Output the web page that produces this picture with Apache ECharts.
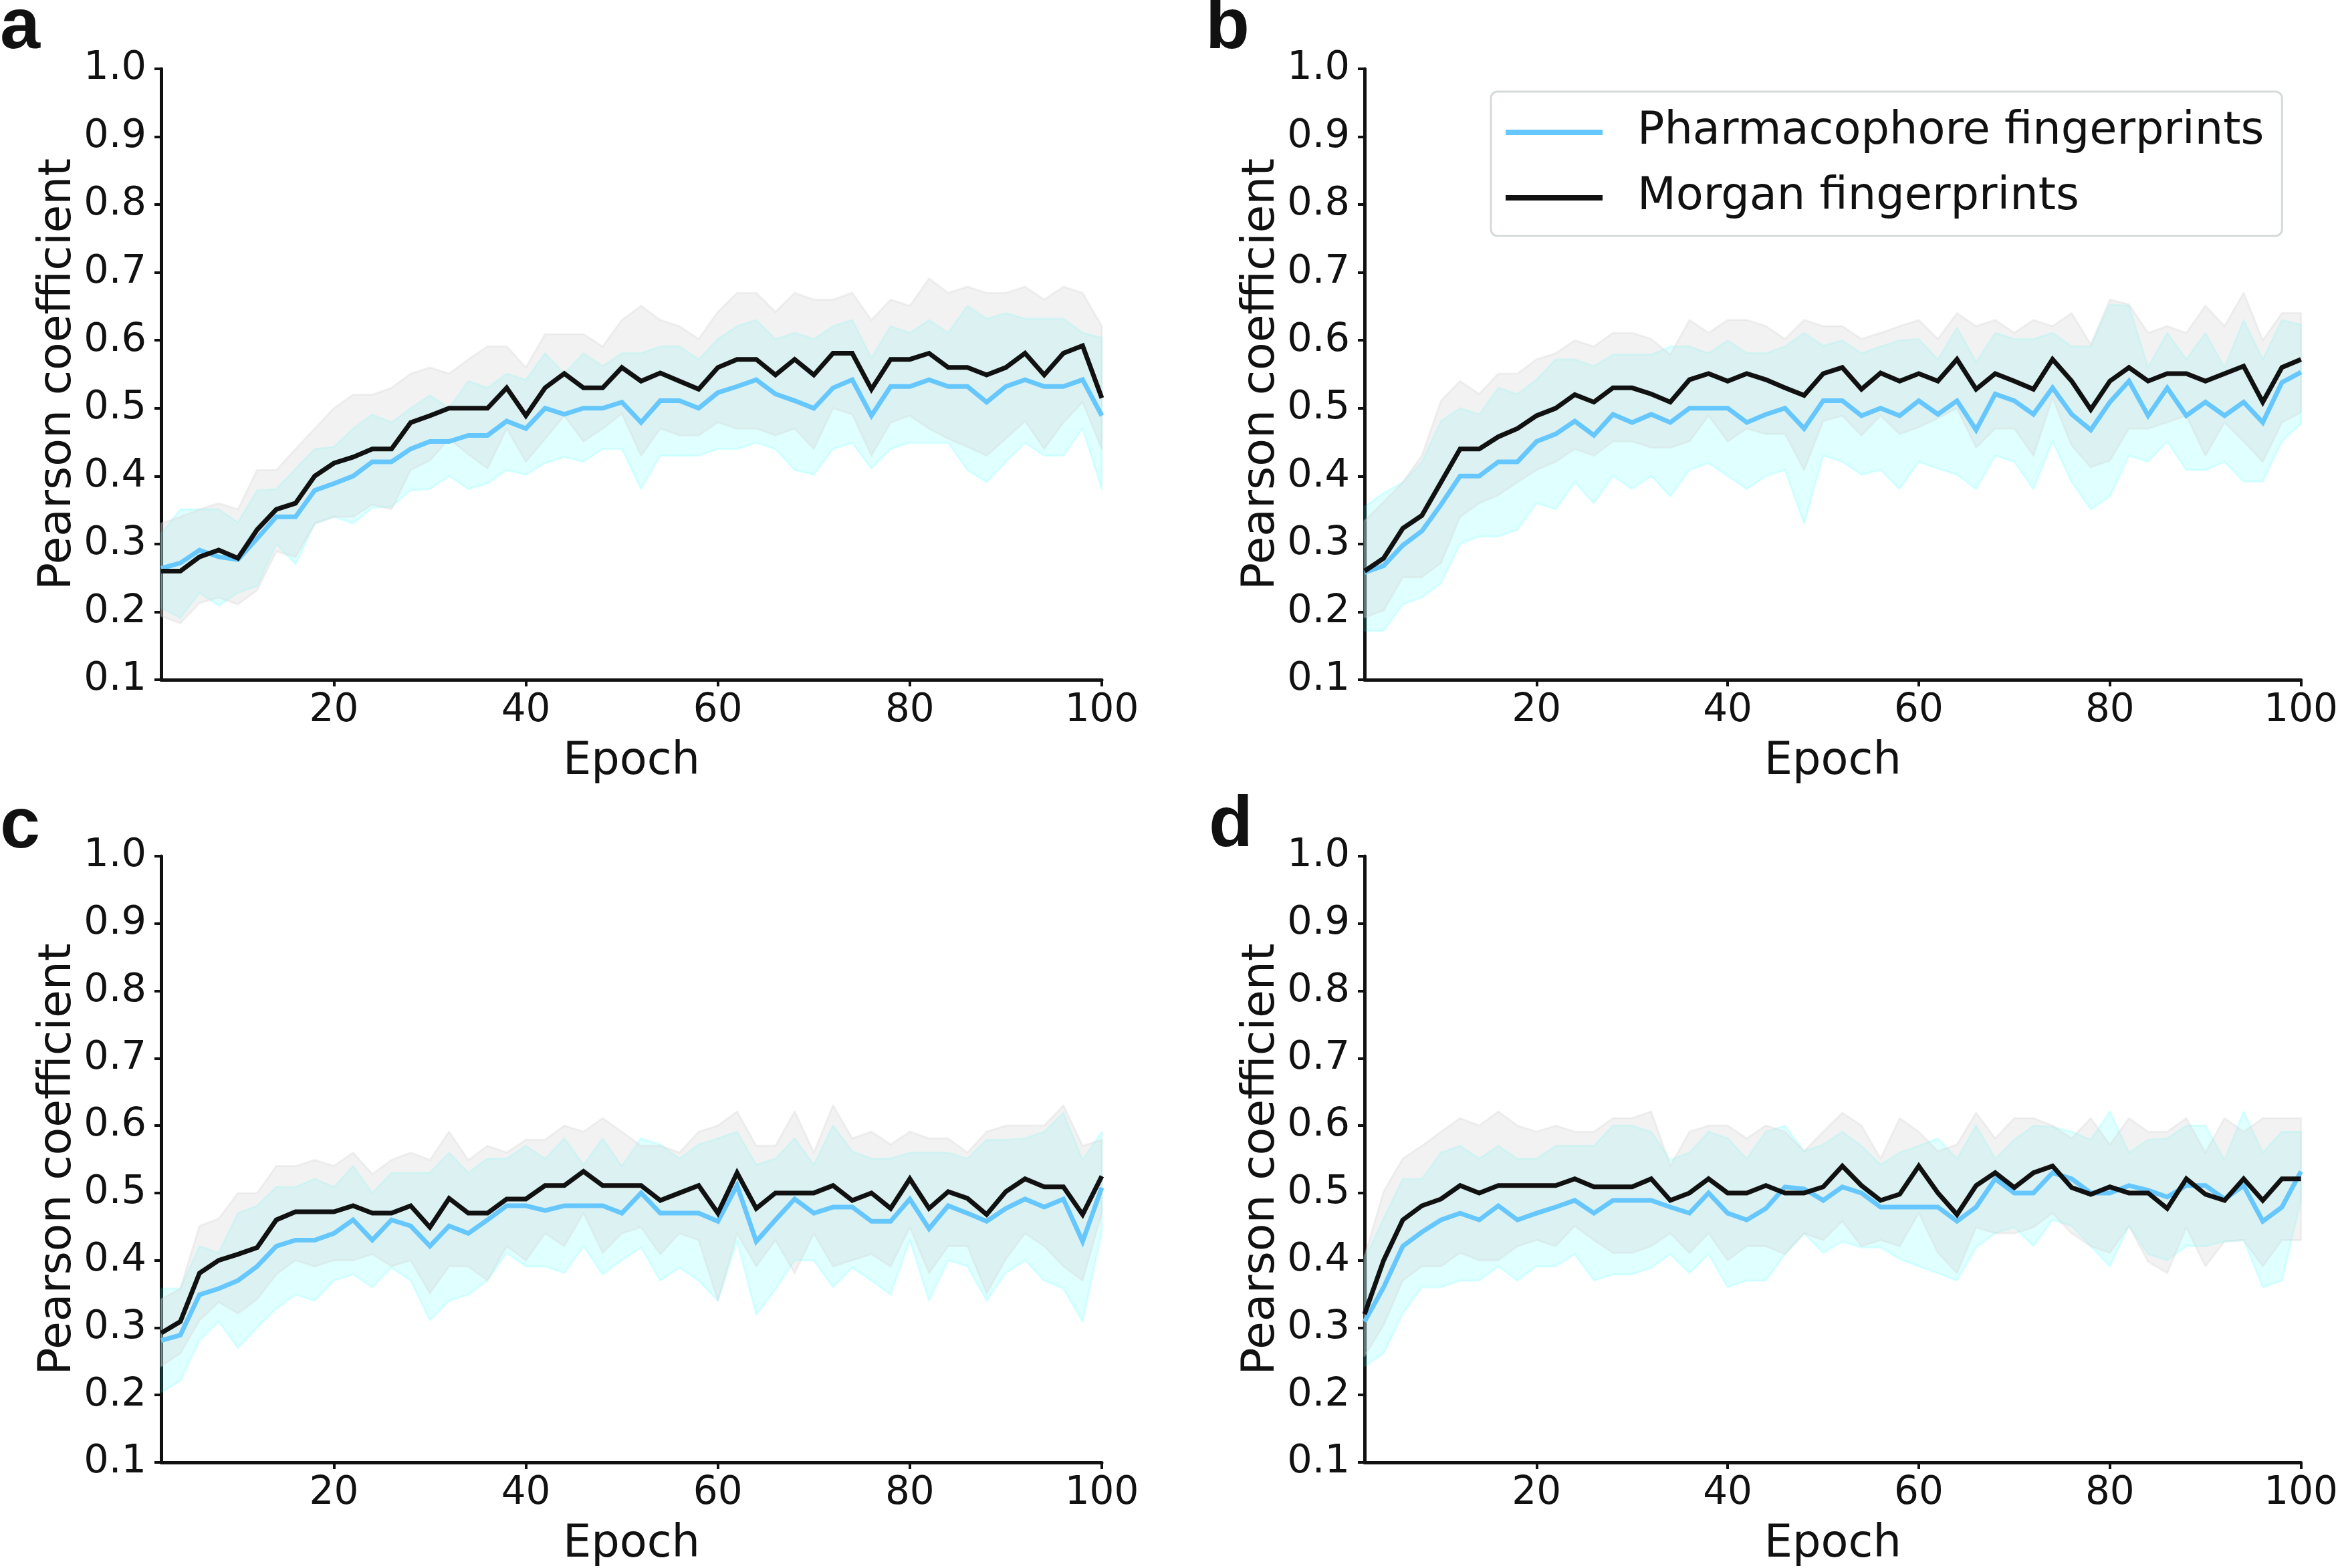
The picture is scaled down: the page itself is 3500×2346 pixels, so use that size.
<!DOCTYPE html>
<html><head><meta charset="utf-8">
<script src="https://cdn.jsdelivr.net/npm/echarts@6/dist/echarts.min.js"></script>
<style>html,body{margin:0;padding:0;background:#fff}#c{width:3500px;height:2346px}</style>
</head><body><div id="c"></div>
<script>
const epochs=[2,4,6,8,10,12,14,16,18,20,22,24,26,28,30,32,34,36,38,40,42,44,46,48,50,52,54,56,58,60,62,64,66,68,70,72,74,76,78,80,82,84,86,88,90,92,94,96,98,100];
const xTicks=[20,40,60,80,100];
const seriesNames=['Pharmacophore fingerprints','Morgan fingerprints'];
const panelLetters=['a','b','c','d'];

// Panel a
const A_pharm=[0.264,0.272,0.291,0.281,0.277,0.308,0.340,0.340,0.379,0.389,0.400,0.421,0.421,0.440,0.451,0.451,0.460,0.460,0.481,0.470,0.500,0.491,0.500,0.500,0.509,0.479,0.511,0.511,0.500,0.523,0.532,0.542,0.521,0.511,0.500,0.530,0.542,0.489,0.532,0.532,0.542,0.532,0.532,0.509,0.532,0.542,0.532,0.532,0.542,0.489];
const A_pharmHigh=[0.315,0.351,0.351,0.351,0.332,0.379,0.381,0.411,0.440,0.443,0.470,0.491,0.479,0.500,0.519,0.500,0.540,0.530,0.551,0.542,0.581,0.551,0.581,0.562,0.581,0.581,0.591,0.591,0.572,0.602,0.621,0.630,0.602,0.611,0.602,0.621,0.630,0.574,0.621,0.611,0.630,0.611,0.651,0.632,0.640,0.632,0.632,0.632,0.611,0.604];
const A_pharmLow=[0.206,0.191,0.228,0.209,0.228,0.238,0.300,0.270,0.330,0.340,0.330,0.353,0.355,0.379,0.381,0.400,0.381,0.389,0.409,0.402,0.419,0.428,0.421,0.440,0.440,0.381,0.430,0.430,0.430,0.440,0.440,0.449,0.440,0.409,0.402,0.440,0.449,0.411,0.440,0.449,0.449,0.449,0.409,0.391,0.421,0.449,0.430,0.430,0.470,0.381];
const A_morgan=[0.260,0.260,0.281,0.291,0.279,0.321,0.351,0.360,0.400,0.419,0.428,0.440,0.440,0.479,0.489,0.500,0.500,0.500,0.530,0.489,0.530,0.551,0.530,0.530,0.560,0.540,0.552,0.540,0.528,0.560,0.572,0.572,0.549,0.572,0.549,0.581,0.581,0.528,0.572,0.572,0.581,0.560,0.560,0.549,0.560,0.581,0.549,0.581,0.592,0.515];
const A_morganHigh=[0.330,0.340,0.351,0.360,0.351,0.409,0.409,0.440,0.470,0.500,0.520,0.520,0.530,0.551,0.560,0.551,0.572,0.591,0.591,0.560,0.609,0.609,0.609,0.591,0.630,0.651,0.630,0.621,0.602,0.642,0.670,0.670,0.642,0.670,0.660,0.660,0.670,0.630,0.660,0.651,0.691,0.670,0.679,0.670,0.670,0.679,0.660,0.679,0.670,0.621];
const A_morganLow=[0.194,0.183,0.213,0.221,0.211,0.232,0.289,0.281,0.330,0.340,0.340,0.358,0.351,0.409,0.423,0.455,0.432,0.411,0.470,0.421,0.455,0.489,0.451,0.470,0.492,0.430,0.470,0.460,0.460,0.479,0.470,0.470,0.460,0.470,0.440,0.500,0.491,0.430,0.479,0.489,0.470,0.455,0.443,0.430,0.455,0.481,0.440,0.479,0.509,0.440];

// Panel b
const B_pharm=[0.258,0.268,0.298,0.319,0.358,0.400,0.400,0.421,0.421,0.451,0.462,0.481,0.460,0.491,0.479,0.491,0.479,0.500,0.500,0.500,0.479,0.491,0.500,0.470,0.511,0.511,0.489,0.500,0.489,0.511,0.491,0.511,0.468,0.521,0.511,0.491,0.530,0.491,0.468,0.509,0.540,0.489,0.530,0.489,0.509,0.489,0.509,0.479,0.538,0.553];
const B_pharmHigh=[0.355,0.375,0.391,0.421,0.481,0.500,0.491,0.530,0.521,0.542,0.572,0.572,0.562,0.579,0.579,0.579,0.591,0.591,0.581,0.600,0.581,0.581,0.591,0.611,0.592,0.600,0.581,0.591,0.600,0.602,0.572,0.619,0.568,0.611,0.602,0.602,0.611,0.591,0.591,0.653,0.651,0.560,0.611,0.572,0.611,0.560,0.630,0.572,0.630,0.623];
const B_pharmLow=[0.172,0.172,0.211,0.221,0.242,0.300,0.311,0.311,0.321,0.360,0.351,0.391,0.360,0.400,0.381,0.400,0.370,0.409,0.419,0.400,0.381,0.400,0.409,0.330,0.430,0.421,0.402,0.409,0.381,0.421,0.411,0.402,0.381,0.430,0.421,0.381,0.451,0.391,0.351,0.370,0.430,0.421,0.451,0.409,0.409,0.421,0.392,0.392,0.451,0.477];
const B_morgan=[0.260,0.279,0.323,0.342,0.391,0.440,0.440,0.458,0.470,0.489,0.500,0.520,0.509,0.530,0.530,0.521,0.509,0.542,0.551,0.540,0.551,0.542,0.530,0.519,0.551,0.560,0.528,0.552,0.540,0.551,0.540,0.572,0.528,0.551,0.540,0.528,0.572,0.540,0.498,0.540,0.560,0.540,0.551,0.551,0.540,0.551,0.562,0.509,0.560,0.572];
const B_morganHigh=[0.334,0.362,0.391,0.430,0.511,0.540,0.521,0.551,0.551,0.572,0.581,0.600,0.591,0.611,0.611,0.602,0.579,0.630,0.611,0.630,0.630,0.621,0.602,0.630,0.621,0.621,0.602,0.611,0.621,0.630,0.602,0.640,0.621,0.630,0.611,0.630,0.621,0.640,0.594,0.660,0.653,0.611,0.621,0.611,0.651,0.621,0.670,0.600,0.640,0.640];
const B_morganLow=[0.192,0.202,0.251,0.251,0.272,0.340,0.360,0.372,0.391,0.409,0.421,0.440,0.430,0.451,0.451,0.442,0.442,0.451,0.489,0.451,0.470,0.462,0.462,0.409,0.481,0.489,0.460,0.489,0.462,0.472,0.485,0.500,0.442,0.470,0.470,0.430,0.515,0.445,0.413,0.423,0.470,0.470,0.479,0.489,0.430,0.479,0.451,0.421,0.479,0.494];

// Panel c
const C_pharm=[0.281,0.289,0.349,0.358,0.370,0.391,0.421,0.430,0.430,0.440,0.460,0.430,0.460,0.451,0.421,0.451,0.440,0.460,0.481,0.481,0.474,0.481,0.481,0.481,0.470,0.500,0.470,0.470,0.470,0.458,0.511,0.428,0.460,0.491,0.470,0.479,0.479,0.458,0.458,0.491,0.447,0.481,0.470,0.458,0.477,0.491,0.479,0.491,0.428,0.508];
const C_pharmHigh=[0.358,0.358,0.421,0.411,0.470,0.481,0.509,0.509,0.521,0.509,0.540,0.500,0.530,0.530,0.530,0.560,0.530,0.551,0.551,0.570,0.551,0.581,0.542,0.581,0.540,0.581,0.572,0.551,0.572,0.581,0.591,0.542,0.551,0.581,0.542,0.600,0.562,0.551,0.551,0.560,0.560,0.560,0.551,0.579,0.579,0.581,0.591,0.619,0.549,0.591];
const C_pharmLow=[0.204,0.221,0.281,0.309,0.270,0.300,0.328,0.349,0.340,0.370,0.379,0.360,0.389,0.370,0.311,0.340,0.349,0.370,0.411,0.391,0.391,0.381,0.421,0.379,0.400,0.419,0.370,0.389,0.370,0.340,0.428,0.319,0.357,0.400,0.400,0.360,0.389,0.370,0.349,0.430,0.340,0.400,0.391,0.340,0.381,0.400,0.370,0.358,0.309,0.442];
const C_morgan=[0.292,0.309,0.381,0.400,0.409,0.419,0.460,0.472,0.472,0.472,0.481,0.470,0.470,0.481,0.449,0.492,0.470,0.470,0.491,0.491,0.511,0.511,0.532,0.511,0.511,0.511,0.489,0.500,0.511,0.470,0.530,0.477,0.500,0.500,0.500,0.511,0.489,0.500,0.477,0.521,0.477,0.502,0.492,0.468,0.502,0.521,0.509,0.509,0.468,0.525];
const C_morganHigh=[0.342,0.358,0.451,0.462,0.500,0.500,0.540,0.540,0.549,0.540,0.560,0.528,0.549,0.560,0.549,0.591,0.549,0.570,0.560,0.579,0.579,0.600,0.591,0.611,0.591,0.570,0.570,0.560,0.591,0.600,0.621,0.570,0.570,0.621,0.560,0.630,0.581,0.591,0.572,0.591,0.581,0.581,0.560,0.591,0.600,0.600,0.600,0.630,0.570,0.579];
const C_morganLow=[0.243,0.262,0.311,0.338,0.321,0.342,0.379,0.400,0.391,0.400,0.400,0.409,0.391,0.400,0.351,0.391,0.391,0.370,0.421,0.400,0.440,0.421,0.470,0.411,0.440,0.449,0.409,0.440,0.430,0.340,0.440,0.391,0.430,0.381,0.440,0.391,0.400,0.409,0.391,0.449,0.381,0.421,0.421,0.351,0.402,0.440,0.421,0.391,0.370,0.470];

// Panel d
const D_pharm=[0.309,0.360,0.421,0.442,0.460,0.470,0.460,0.481,0.460,0.470,0.479,0.489,0.470,0.489,0.489,0.489,0.479,0.470,0.500,0.470,0.460,0.477,0.509,0.506,0.489,0.509,0.500,0.479,0.479,0.479,0.479,0.458,0.479,0.521,0.500,0.500,0.530,0.521,0.500,0.500,0.511,0.504,0.494,0.511,0.511,0.491,0.511,0.458,0.479,0.532];
const D_pharmHigh=[0.402,0.462,0.521,0.521,0.560,0.570,0.551,0.570,0.551,0.551,0.570,0.570,0.570,0.600,0.600,0.591,0.549,0.560,0.591,0.581,0.551,0.591,0.600,0.562,0.572,0.591,0.570,0.542,0.560,0.570,0.581,0.551,0.600,0.551,0.579,0.600,0.598,0.591,0.579,0.621,0.560,0.579,0.581,0.600,0.600,0.549,0.621,0.560,0.591,0.591];
const D_pharmLow=[0.243,0.262,0.321,0.360,0.360,0.370,0.370,0.391,0.370,0.391,0.391,0.409,0.370,0.379,0.379,0.389,0.409,0.381,0.409,0.360,0.370,0.370,0.409,0.440,0.411,0.428,0.419,0.419,0.402,0.391,0.381,0.370,0.419,0.440,0.449,0.421,0.460,0.451,0.421,0.391,0.451,0.409,0.400,0.421,0.421,0.428,0.430,0.360,0.370,0.489];
const D_morgan=[0.320,0.400,0.460,0.481,0.491,0.511,0.500,0.511,0.511,0.511,0.511,0.521,0.509,0.509,0.509,0.521,0.489,0.500,0.521,0.500,0.500,0.511,0.500,0.500,0.509,0.540,0.511,0.489,0.498,0.540,0.500,0.468,0.511,0.530,0.508,0.530,0.540,0.508,0.498,0.509,0.500,0.500,0.477,0.521,0.498,0.489,0.521,0.489,0.521,0.521];
const D_morganHigh=[0.406,0.502,0.551,0.570,0.591,0.611,0.600,0.621,0.600,0.591,0.600,0.591,0.591,0.611,0.611,0.621,0.540,0.591,0.600,0.600,0.581,0.600,0.591,0.562,0.591,0.619,0.600,0.551,0.611,0.591,0.562,0.572,0.619,0.581,0.611,0.611,0.600,0.581,0.611,0.572,0.611,0.591,0.591,0.611,0.560,0.611,0.591,0.611,0.611,0.611];
const D_morganLow=[0.258,0.304,0.370,0.391,0.391,0.411,0.400,0.400,0.421,0.430,0.421,0.451,0.430,0.411,0.411,0.421,0.440,0.411,0.440,0.400,0.421,0.421,0.409,0.440,0.430,0.458,0.421,0.430,0.421,0.470,0.411,0.381,0.449,0.440,0.440,0.449,0.470,0.440,0.421,0.411,0.451,0.398,0.381,0.449,0.391,0.428,0.430,0.391,0.430,0.430];

const panelData=[
  {pharm:A_pharm,pharmHigh:A_pharmHigh,pharmLow:A_pharmLow,morgan:A_morgan,morganHigh:A_morganHigh,morganLow:A_morganLow},
  {pharm:B_pharm,pharmHigh:B_pharmHigh,pharmLow:B_pharmLow,morgan:B_morgan,morganHigh:B_morganHigh,morganLow:B_morganLow},
  {pharm:C_pharm,pharmHigh:C_pharmHigh,pharmLow:C_pharmLow,morgan:C_morgan,morganHigh:C_morganHigh,morganLow:C_morganLow},
  {pharm:D_pharm,pharmHigh:D_pharmHigh,pharmLow:D_pharmLow,morgan:D_morgan,morganHigh:D_morganHigh,morganLow:D_morganLow}
];

// layout & style
const FONT='DejaVu Sans';
const INK='#111111';
const BLUE='#66c7fe';
const CYAN_FILL='rgba(0,255,255,0.12)';
const GRAY_FILL='rgba(211,211,211,0.3)';
const grids=[
  {left:241,top:103,width:1407,height:914},
  {left:2041,top:103,width:1407,height:914},
  {left:241,top:1281,width:1407,height:914},
  {left:2041,top:1281,width:1407,height:914}
];
const letterPos=[[0,-12],[1803,-12],[0,1184],[1808,1182]];

function pairs(ys){return epochs.map((x,i)=>[x,ys[i]]);}
function bandRows(lo,hi){return epochs.map((x,i)=>[x,lo[i],hi[i]]);}

// one polygon per band, built from the series' own data through the axis scales
function bandRenderer(fill){
  return function(params,api){
    if(params.dataIndexInside!==0) return null;
    const n=params.dataInsideLength;
    const top=[],bottom=[];
    for(let k=0;k<n;k++){
      const x=api.value(0,k);
      top.push(api.coord([x,api.value(2,k)]));
      bottom.push(api.coord([x,api.value(1,k)]));
    }
    const pts=top.concat(bottom.reverse());
    return {type:'polygon',shape:{points:pts},
      style:{fill:fill,stroke:fill,lineWidth:3,lineJoin:'round'}};
  };
}

const xAxes=[],yAxes=[],series=[];
grids.forEach((g,i)=>{
  xAxes.push({type:'value',gridIndex:i,min:2,max:100,
    name:'Epoch',nameLocation:'middle',nameGap:90,
    nameTextStyle:{fontFamily:FONT,fontSize:67,color:INK},
    axisLine:{show:true,onZero:false,lineStyle:{color:INK,width:5}},
    axisTick:{show:true,length:10,lineStyle:{color:INK,width:4},customValues:xTicks},
    axisLabel:{show:true,customValues:xTicks,fontFamily:FONT,fontSize:58,color:INK,margin:18},
    splitLine:{show:false}});
  yAxes.push({type:'value',gridIndex:i,min:0.1,max:1.0,interval:0.1,
    name:'Pearson coefficient',nameLocation:'middle',nameGap:120,
    nameTextStyle:{fontFamily:FONT,fontSize:68,color:INK},
    axisLine:{show:true,onZero:false,lineStyle:{color:INK,width:5}},
    axisTick:{show:true,length:10,lineStyle:{color:INK,width:4}},
    axisLabel:{show:true,fontFamily:FONT,fontSize:59,color:INK,margin:22,formatter:v=>v.toFixed(1)},
    splitLine:{show:false}});
  const d=panelData[i];
  series.push({type:'custom',name:'pharm_band_'+i,xAxisIndex:i,yAxisIndex:i,silent:true,animation:false,z:1,
    encode:{x:0,y:[1,2]},data:bandRows(d.pharmLow,d.pharmHigh),renderItem:bandRenderer(CYAN_FILL)});
  series.push({type:'custom',name:'morgan_band_'+i,xAxisIndex:i,yAxisIndex:i,silent:true,animation:false,z:2,
    encode:{x:0,y:[1,2]},data:bandRows(d.morganLow,d.morganHigh),renderItem:bandRenderer(GRAY_FILL)});
  series.push({type:'line',name:seriesNames[0],xAxisIndex:i,yAxisIndex:i,data:pairs(d.pharm),symbol:'none',showSymbol:false,animation:false,z:3,
    lineStyle:{color:BLUE,width:7,join:'miter'},itemStyle:{color:BLUE}});
  series.push({type:'line',name:seriesNames[1],xAxisIndex:i,yAxisIndex:i,data:pairs(d.morgan),symbol:'none',showSymbol:false,animation:false,z:4,
    lineStyle:{color:INK,width:7,join:'miter'},itemStyle:{color:INK}});
});

const graphic=panelLetters.map((t,i)=>({type:'text',left:letterPos[i][0],top:letterPos[i][1],
  style:{text:t,font:'bold 108px "Liberation Sans"',fill:INK}}));

const chart=echarts.init(document.getElementById('c'),null,{renderer:'canvas'});
chart.setOption({
  animation:false,
  backgroundColor:'#ffffff',
  grid:grids.map(g=>Object.assign({containLabel:false},g)),
  xAxis:xAxes,yAxis:yAxes,series:series,graphic:graphic,
  legend:{show:true,orient:'vertical',left:2230,top:137,
    data:seriesNames.map(n=>({name:n})),icon:'rect',itemWidth:145,itemHeight:8,itemGap:20,
    padding:[22,27,18,22],backgroundColor:'#ffffff',borderColor:'#d5dbd8',borderWidth:3,borderRadius:10,
    selectedMode:false,
    textStyle:{fontFamily:FONT,fontSize:67,color:INK,lineHeight:78,padding:[0,0,0,47]}}
});
</script></body></html>
